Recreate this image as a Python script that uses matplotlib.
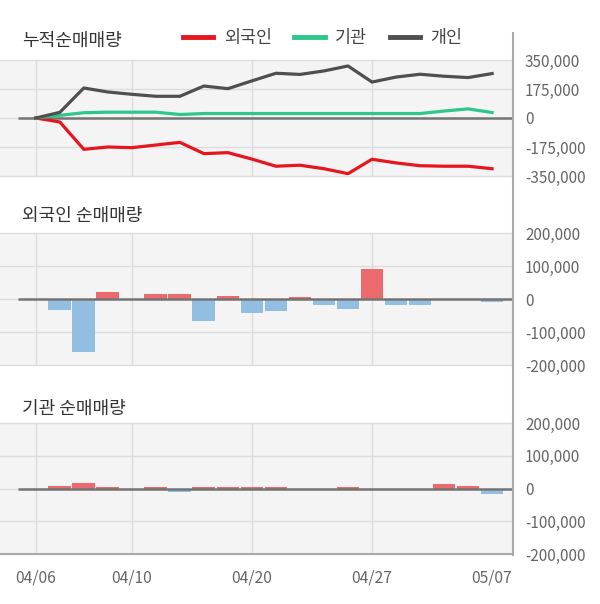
import numpy as np
import matplotlib
matplotlib.use('Agg')
import matplotlib.pyplot as plt
from matplotlib.lines import Line2D

plt.rcParams['font.family'] = ['Noto Sans CJK KR', 'DejaVu Sans']

# trading days shown on the chart
dates = ['04/06', '04/07', '04/08', '04/09', '04/10', '04/13', '04/14', '04/16',
         '04/17', '04/20', '04/21', '04/22', '04/23', '04/24', '04/27', '04/28',
         '04/29', '05/04', '05/06', '05/07']
label_dates = ['04/06', '04/10', '04/20', '04/27', '05/07']
grid_dates = ['04/06', '04/10', '04/20', '04/27']

# cumulative net buying
foreign_cum = [0, -24000, -189000, -175000, -179000, -163000, -147000, -215000,
               -209000, -248000, -291000, -285000, -306000, -336000, -249000,
               -271000, -288000, -291000, -291000, -306000]
inst_cum = [0, 16000, 32000, 35000, 35000, 35000, 21000, 27000, 27000, 27000,
            27000, 27000, 27000, 27000, 27000, 27000, 27000, 42000, 55000, 33000]
indiv_cum = [0, 34000, 181000, 157000, 143000, 131000, 131000, 193000, 177000,
             224000, 270000, 263000, 284000, 314000, 217000, 247000, 264000,
             252000, 244000, 268000]

# daily net buying
foreign_daily = [0, -33000, -161000, 21000, 0, 14000, 14000, -67000, 8000,
                 -43000, -37000, 5000, -18000, -30000, 90000, -18000, -18000,
                 0, 0, -9000]
inst_daily = [0, 7000, 17000, 4000, 0, 4000, -10000, 4000, 4000, 4000, 4000,
              0, 0, 4000, 0, 0, 0, 12500, 9000, -16500]

top_ticks = [350000, 175000, 0, -175000, -350000]
bar_ticks = [200000, 100000, 0, -100000, -200000]

RED = '#e5161d'
GREEN = '#2ec68b'
DARK = '#4f4f4f'
BAR_RED = '#ea6a6d'
BAR_BLUE = '#92bee1'
BG = '#f4f4f4'
GRID = '#dcdcdc'
TICK = '#666666'

x = np.arange(len(dates))
xlim = (-1.49, 19.85)

fig = plt.figure(figsize=(6.0, 6.04), dpi=100)
W, H = 600, 604

def make_ax(top, bottom, ticks):
    ax = fig.add_axes([0, 1 - bottom / H, 512.5 / W, (bottom - top) / H])
    ax.set_facecolor(BG)
    ax.set_xlim(*xlim)
    ax.set_ylim(ticks[-1], ticks[0])
    for s in ax.spines.values():
        s.set_visible(False)
    for t in ticks:
        ax.axhline(t, color=GRID, lw=1, zorder=0, clip_on=False)
    for d in grid_dates:
        ax.axvline(dates.index(d), color=GRID, lw=1, zorder=0)
    ax.hlines(0, -0.75, xlim[1], color='#747474', lw=1.8, zorder=4)
    ax.yaxis.tick_right()
    ax.set_yticks(ticks)
    ax.set_yticklabels([f'{t:,}' for t in ticks])
    ax.tick_params(axis='y', length=0, pad=9, labelsize=11, labelcolor=TICK)
    ax.set_xticks([dates.index(d) for d in label_dates])
    ax.tick_params(axis='x', length=0, labelbottom=False)
    return ax

# cumulative panel
ax1 = make_ax(60, 176, top_ticks)
ax1.plot(x, foreign_cum, color=RED, lw=2.3, zorder=5, label='외국인')
ax1.plot(x, inst_cum, color=GREEN, lw=2.3, zorder=5, label='기관')
ax1.plot(x, indiv_cum, color=DARK, lw=2.3, zorder=5, label='개인')

# foreign daily
ax2 = make_ax(233, 365, bar_ticks)
ax2.bar(x, foreign_daily, width=0.95, zorder=3,
        color=[BAR_RED if v > 0 else BAR_BLUE for v in foreign_daily])

# institution daily
ax3 = make_ax(423, 554, bar_ticks)
ax3.bar(x, inst_daily, width=0.95, zorder=3,
        color=[BAR_RED if v > 0 else BAR_BLUE for v in inst_daily])
ax3.spines['bottom'].set_visible(True)
ax3.spines['bottom'].set_color('#aaaaaa')
ax3.spines['bottom'].set_linewidth(1.5)
ax3.set_xticklabels(label_dates)
ax3.tick_params(axis='x', labelbottom=True, pad=11, labelsize=11.3, labelcolor=TICK)

# right axis line running through all panels
fig.add_artist(Line2D([512.5 / W] * 2, [1 - 33 / H, 1 - 555 / H],
                      transform=fig.transFigure, color='#aaaaaa', lw=1.5))

# panel titles
for txt, yc in [('누적순매매량', 41), ('외국인 순매매량', 216), ('기관 순매매량', 409)]:
    fig.text(22 / W, 1 - yc / H, txt, fontsize=13, color='#333333',
             ha='left', va='center')

handles, labels = ax1.get_legend_handles_labels()
leg = fig.legend(handles, labels, loc='center left', ncol=3,
                 bbox_to_anchor=(183 / W, 1 - 38 / H), frameon=False,
                 fontsize=12.5, handlelength=1.75, handletextpad=0.6,
                 columnspacing=1.3, borderpad=0, borderaxespad=0)
for line in leg.get_lines():
    line.set_linewidth(3.5)
for t in leg.get_texts():
    t.set_color('#444444')

fig.savefig('out.png', dpi=100)
